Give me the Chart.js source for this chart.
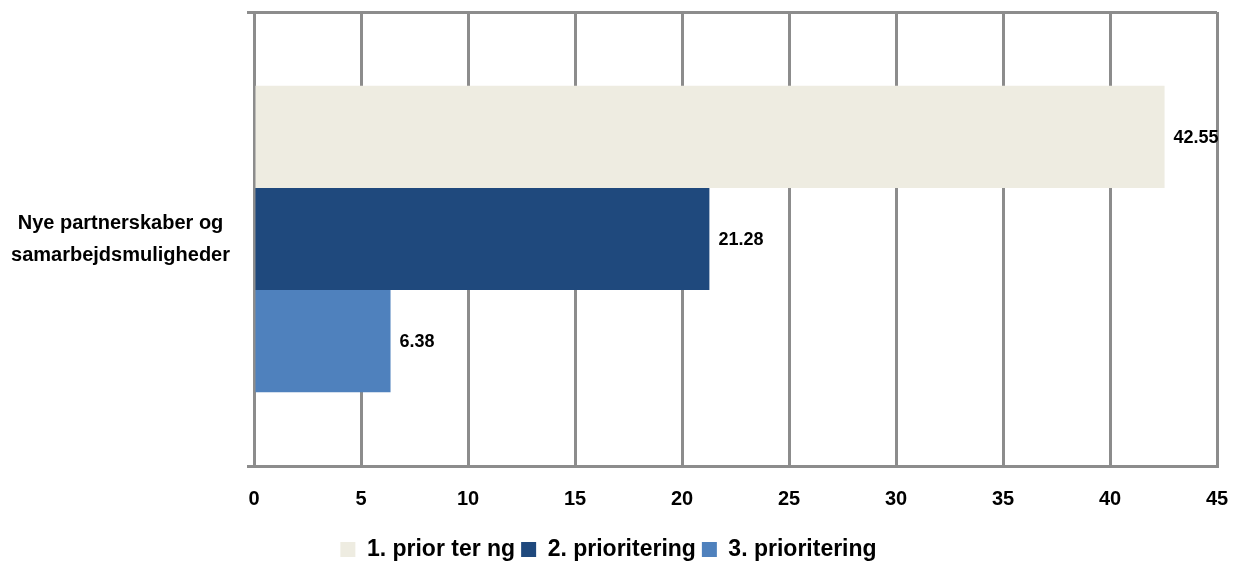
<!DOCTYPE html>
<html>
<head>
<meta charset="utf-8">
<script src="https://cdn.jsdelivr.net/npm/chart.js@4"></script>
<style>
  html, body { margin: 0; padding: 0; background: #fff; }
  #wrap { width: 1239px; height: 562px; }
</style>
</head>
<body>
<div id="wrap"><canvas id="prioChart" width="1239" height="562"></canvas></div>
<script>
// data
const categories = [["Nye partnerskaber og", "samarbejdsmuligheder"]];
const seriesNames = ["1. prior ter ng", "2. prioritering", "3. prioritering"];
const prio1 = [42.55];
const prio2 = [21.28];
const prio3 = [6.38];
const xTicks = [0, 5, 10, 15, 20, 25, 30, 35, 40, 45];

const FONT = "'Liberation Sans Narrow', 'Arial Narrow', 'Liberation Sans', Arial, sans-serif";
const gridGray = '#8c8c8c';

// draws the value after each bar
const valueLabels = {
  id: 'valueLabels',
  afterDatasetsDraw(chart) {
    const ctx = chart.ctx;
    ctx.save();
    ctx.font = 'bold 18px ' + FONT;
    ctx.fillStyle = '#000';
    ctx.textAlign = 'left';
    ctx.textBaseline = 'middle';
    chart.data.datasets.forEach(function(ds, i) {
      const meta = chart.getDatasetMeta(i);
      meta.data.forEach(function(bar, j) {
        ctx.fillText(ds.data[j].toFixed(2), bar.x + 9, bar.y + 1);
      });
    });
    ctx.restore();
  }
};

new Chart(document.getElementById('prioChart'), {
  type: 'bar',
  data: {
    labels: categories,
    datasets: [{
      label: seriesNames[0],
      data: prio1,
      backgroundColor: '#eeece1'
    }, {
      label: seriesNames[1],
      data: prio2,
      backgroundColor: '#1f497d'
    }, {
      label: seriesNames[2],
      data: prio3,
      backgroundColor: '#4f81bd'
    }]
  },
  options: {
    indexAxis: 'y',
    responsive: false,
    animation: false,
    categoryPercentage: 0.675,
    barPercentage: 1,
    layout: { padding: { top: 12, right: 22, left: 0, bottom: -9 } },
    scales: {
      x: {
        min: 0,
        max: 45,
        afterBuildTicks: function(axis) {
          axis.ticks = xTicks.map(v => ({ value: v }));
        },
        afterFit: function(axis) {
          axis.paddingLeft = 0;
          axis.paddingRight = 0;
        },
        grid: { color: gridGray, lineWidth: 3, drawTicks: false },
        border: { color: gridGray, width: 3 },
        ticks: {
          color: '#000',
          padding: 21,
          font: { family: FONT, size: 20, weight: 'bold' }
        }
      },
      y: {
        offset: true,
        afterFit: function(axis) {
          axis.width = 254;
          axis.paddingTop = 0;
          axis.paddingBottom = 0;
        },
        grid: { color: gridGray, lineWidth: 3, offset: true, tickLength: 7 },
        border: { color: gridGray, width: 3 },
        ticks: {
          color: '#000',
          crossAlign: 'center',
          padding: 17,
          font: { family: FONT, size: 20, weight: 'bold', lineHeight: 1.6 }
        }
      }
    },
    plugins: {
      legend: {
        position: 'bottom',
        labels: {
          color: '#000',
          boxWidth: 15,
          boxHeight: 15,
          padding: 6,
          font: { family: FONT, size: 23, weight: 'bold' }
        }
      },
      tooltip: { enabled: false }
    }
  },
  plugins: [valueLabels]
});
</script>
</body>
</html>
